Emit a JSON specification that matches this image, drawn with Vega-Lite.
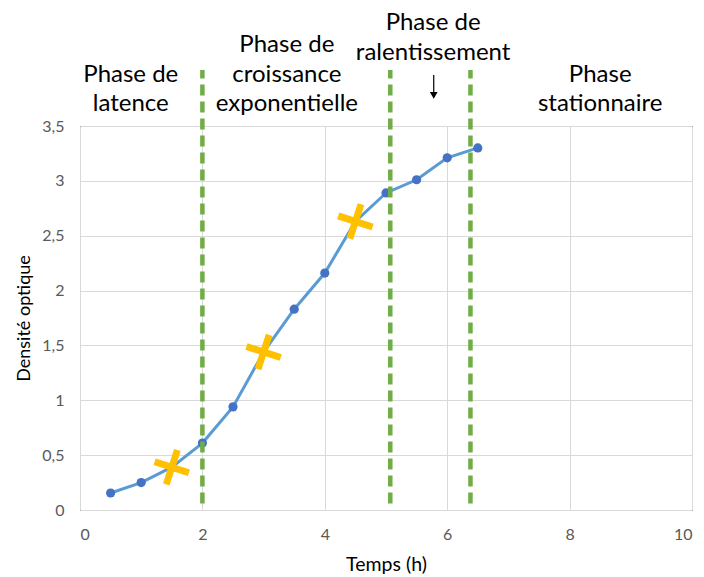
{
  "$schema": "https://vega.github.io/schema/vega-lite/v6.json",
  "width": 612,
  "height": 384,
  "autosize": {"type": "none"},
  "padding": {"left": 80, "top": 126, "right": 12, "bottom": 67},
  "background": "white",
  "config": {
    "font": "Lato",
    "view": {"stroke": "#000000", "strokeWidth": 1},
    "axis": {
      "labelFont": "Lato",
      "titleFont": "Lato",
      "labelFontSize": 16,
      "titleFontSize": 18,
      "labelColor": "#595959",
      "titleColor": "#000000",
      "titleFontWeight": "normal",
      "gridColor": "#d9d9d9",
      "gridWidth": 1,
      "domain": false,
      "ticks": false
    }
  },
  "datasets": {
    "mesures": [
      {"t": 0.5, "od": 0.155},
      {"t": 1.0, "od": 0.25},
      {"t": 1.5, "od": 0.39},
      {"t": 2.0, "od": 0.61},
      {"t": 2.5, "od": 0.94},
      {"t": 3.0, "od": 1.44},
      {"t": 3.5, "od": 1.83},
      {"t": 4.0, "od": 2.16},
      {"t": 4.5, "od": 2.63},
      {"t": 5.0, "od": 2.89},
      {"t": 5.5, "od": 3.01},
      {"t": 6.0, "od": 3.21},
      {"t": 6.5, "od": 3.30}
    ],
    "croix": [
      {"t": 1.5, "od": 0.39},
      {"t": 3.0, "od": 1.44},
      {"t": 4.5, "od": 2.63}
    ],
    "limites": [
      {"t": 2.0, "od": 0.06, "haut": 4.01},
      {"t": 5.07, "od": 0.06, "haut": 4.01},
      {"t": 6.38, "od": 0.06, "haut": 4.01}
    ],
    "etiquettes": [
      {"t": 0.83, "od": 3.965, "texte": "Phase de"},
      {"t": 0.83, "od": 3.70, "texte": "latence"},
      {"t": 3.38, "od": 4.238, "texte": "Phase de"},
      {"t": 3.38, "od": 3.965, "texte": "croissance"},
      {"t": 3.38, "od": 3.70, "texte": "exponentielle"},
      {"t": 5.77, "od": 4.44, "texte": "Phase de"},
      {"t": 5.77, "od": 4.165, "texte": "ralentissement"},
      {"t": 8.5, "od": 3.965, "texte": "Phase"},
      {"t": 8.5, "od": 3.70, "texte": "stationnaire"}
    ],
    "fleche": [
      {"t": 5.78, "od": 3.965, "bas": 3.80}
    ],
    "pointe": [
      {"t": 5.78, "od": 3.78}
    ]
  },
  "layer": [
    {
      "data": {"name": "mesures"},
      "mark": {"type": "line", "color": "#5B9BD5", "strokeWidth": 3},
      "encoding": {
        "x": {
          "field": "t", "type": "quantitative",
          "scale": {"domain": [0, 10], "nice": false, "zero": false},
          "axis": {"title": "Temps (h)", "titleFontSize": 19.5, "values": [0, 2, 4, 6, 8, 10], "labelPadding": 16, "titlePadding": 13, "labelExpr": "replace(format(datum.value, '~g'), '.', ',')"}
        },
        "y": {
          "field": "od", "type": "quantitative",
          "scale": {"domain": [0, 3.5], "nice": false, "zero": true},
          "axis": {"title": "Densité optique", "values": [0, 0.5, 1, 1.5, 2, 2.5, 3, 3.5], "labelPadding": 16, "titlePadding": 8, "labelExpr": "replace(format(datum.value, '~g'), '.', ',')"}
        }
      }
    },
    {
      "data": {"name": "mesures"},
      "mark": {"type": "point", "filled": true, "color": "#4472C4", "size": 85, "opacity": 1},
      "encoding": {
        "x": {"field": "t", "type": "quantitative"},
        "y": {"field": "od", "type": "quantitative"}
      }
    },
    {
      "data": {"name": "croix"},
      "mark": {
        "type": "point", "filled": true, "color": "#FFC000", "opacity": 1,
        "shape": "M-1,-0.19H1V0.19H-1Z M-0.19,-1H0.19V1H-0.19Z",
        "size": 1300, "angle": 18
      },
      "encoding": {
        "x": {"field": "t", "type": "quantitative"},
        "y": {"field": "od", "type": "quantitative"}
      }
    },
    {
      "data": {"name": "limites"},
      "mark": {"type": "rule", "color": "#70AD47", "strokeWidth": 4.5, "strokeDash": [11, 6], "clip": false},
      "encoding": {
        "x": {"field": "t", "type": "quantitative"},
        "y": {"field": "od", "type": "quantitative"},
        "y2": {"field": "haut"}
      }
    },
    {
      "data": {"name": "etiquettes"},
      "mark": {"type": "text", "fontSize": 24, "font": "Lato", "color": "#000000", "align": "center", "baseline": "middle", "clip": false},
      "encoding": {
        "x": {"field": "t", "type": "quantitative"},
        "y": {"field": "od", "type": "quantitative"},
        "text": {"field": "texte"}
      }
    },
    {
      "data": {"name": "fleche"},
      "mark": {"type": "rule", "color": "#000000", "strokeWidth": 1.2, "clip": false},
      "encoding": {
        "x": {"field": "t", "type": "quantitative"},
        "y": {"field": "od", "type": "quantitative"},
        "y2": {"field": "bas"}
      }
    },
    {
      "data": {"name": "pointe"},
      "mark": {"type": "point", "shape": "triangle-down", "filled": true, "color": "#000000", "size": 60, "opacity": 1, "clip": false},
      "encoding": {
        "x": {"field": "t", "type": "quantitative"},
        "y": {"field": "od", "type": "quantitative"}
      }
    }
  ]
}
